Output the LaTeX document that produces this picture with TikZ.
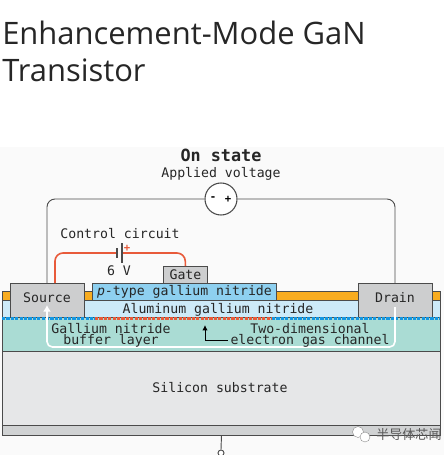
\documentclass[tikz,border=0pt]{standalone}
\usepackage{fontspec}
\setmainfont{Open Sans}
\setmonofont{DejaVu Sans Mono}
\newfontfamily\cjk{Noto Sans CJK SC}
\usetikzlibrary{arrows.meta,positioning,calc}
\definecolor{layergold}{RGB}{248,172,32}
\definecolor{layeralgan}{RGB}{205,234,248}
\definecolor{layerptype}{RGB}{142,208,240}
\definecolor{layerbuffer}{RGB}{170,220,212}
\definecolor{layersi}{RGB}{230,231,232}
\definecolor{layerbase}{RGB}{208,210,211}
\definecolor{metalgray}{RGB}{205,206,207}
\definecolor{wiregray}{RGB}{75,75,75}
\definecolor{wirered}{RGB}{232,90,58}
\definecolor{chanblue}{RGB}{20,150,225}
\tikzset{
 layer/.style={rectangle,draw=wiregray,line width=0.7pt,inner sep=0pt,anchor=north west},
 contact/.style={layer,fill=metalgray},
 lbl/.style={font=\ttfamily\fontsize{9.9}{9.9}\selectfont,text=black!85,inner sep=0pt},
 wire/.style={draw=wiregray,line width=0.7pt,rounded corners=6pt},
 ctrl/.style={draw=wirered,line width=1.2pt,rounded corners=6pt},
 chan/.style={draw=white,line width=1.2pt,rounded corners=4pt},
 dots/.style={line width=2pt,dash pattern=on 2.4pt off 0.9pt}}
\begin{document}
\begin{tikzpicture}[x=0.75pt,y=-0.75pt]
\useasboundingbox (0,0) rectangle (444,455);
\fill[black!2] (0,147) rectangle (444,455);
% layers, top to bottom
\node[layer,fill=layerbase,minimum width=328.5pt,minimum height=7.5pt] (base) at (2,425) {};
\node[layer,fill=layersi,minimum width=328.5pt,minimum height=55.5pt] (si) at (2,351) {};
\node[layer,fill=layerbuffer,minimum width=328.5pt,minimum height=25.5pt] (buffer) at (2,317) {};
\node[layer,fill=layeralgan,minimum width=328.5pt,minimum height=12.75pt] (algan) at (2,300) {};
\node[layer,fill=layergold,minimum width=328.5pt,minimum height=6.75pt] (gold) at (2,291) {};
\node[layer,fill=layerptype,minimum width=138pt,minimum height=12.75pt] (ptype) at (92,283) {};
\node[contact,minimum width=55.5pt,minimum height=25.5pt] (source) at (10,283) {};
\node[contact,minimum width=55.5pt,minimum height=25.5pt] (drain) at (358,283) {};
\node[contact,minimum width=33pt,minimum height=12.75pt] (gate) at (163,266) {};
% channel dots
\draw[chanblue,dots] (2,318.5)--(95,318.5);
\draw[wirered,dots] (95,318.5)--(272,318.5);
\draw[chanblue,dots] (272,318.5)--(440,318.5);
% current loop
\coordinate (chanA) at (47,305);
\coordinate (chanB) at (395,307);
\draw[chan,-{Latex[length=5pt,width=6pt]}] (chanB)--(395,347)--(47,347)--(chanA);
% circuits
\node[circle,draw=wiregray,line width=0.8pt,fill=white,minimum size=24pt,inner sep=0pt] (supply) at (221,199) {};
\node[font=\ttfamily\bfseries\fontsize{8}{8}\selectfont,inner sep=0pt] (minus) at (213,199) {-};
\node[font=\ttfamily\bfseries\fontsize{8}{8}\selectfont,inner sep=0pt] (plus) at (228,199) {+};
\coordinate (srcwire) at (47,283);
\coordinate (drnwire) at (395,283);
\draw[wire] (srcwire)--(47,199)--(supply.west);
\draw[wire] (drnwire)--(395,199)--(supply.east);
\coordinate (srcctrl) at (55,283);
\coordinate (cellA) at (117,253);
\coordinate (cellB) at (122,253);
\draw[ctrl] (srcctrl)--(55,253)--(cellA);
\draw[ctrl] (cellB)--(185,253)--(gate.north);
\draw[wiregray,line width=0.8pt] (117,248)--(117,258);
\draw[wiregray,line width=0.8pt] (122,243)--(122,263);
\node[font=\ttfamily\bfseries\fontsize{8}{8}\selectfont,text=wirered,inner sep=0pt] (cellplus) at (127,248) {+};
% back contact
\node[circle,draw=wiregray,line width=0.7pt,fill=white,minimum size=4.5pt,inner sep=0pt] (term) at (221,453) {};
\draw[wire] (base.south)--(term.north);
% labels
\node[font=\fontsize{23.2}{27.7}\selectfont,anchor=north west,align=left,inner sep=0pt,text=black!85] (title) at (2,21) {Enhancement-Mode GaN\\Transistor};
\node[lbl,font=\ttfamily\bfseries\fontsize{12.6}{12.6}\selectfont] (onstate) at (221,155) {On state};
\node[lbl] (applied) at (221,174) {Applied voltage};
\node[lbl] (control) at (120,234) {Control circuit};
\node[lbl] (sixv) at (119,271) {6 V};
\node[lbl] at (gate.center) {Gate};
\node[lbl] at (47,298) {Source};
\node[lbl] at (395,298) {Drain};
\node[lbl] at (ptype.center) {\textit{p}-type gallium nitride};
\node[lbl] at (218,310) {Aluminum gallium nitride};
\node[lbl,align=center,font=\ttfamily\fontsize{9.9}{8.4}\selectfont] (gan) at (111,335) {Gallium nitride\\buffer layer};
\node[lbl,align=center,font=\ttfamily\fontsize{9.9}{8.4}\selectfont] (twodeg) at (310,335) {Two-dimensional\\electron gas channel};
\coordinate (gasA) at (228,340);
\draw[black,line width=0.7pt,-{Latex[length=4pt,width=4pt]}] (gasA)--(205,340)--(205,325);
\node[lbl] (silicon) at (220,388) {Silicon substrate};
% watermark
\fill[white,draw=black!45,line width=0.3pt] (358,432) circle (5.5);
\fill[white,draw=black!45,line width=0.3pt] (365,437) circle (5);
\node[font=\cjk\fontsize{9.8}{9.8}\selectfont,text=black!65,inner sep=0pt,anchor=west] (mark) at (376,435) {半导体芯闻};
\end{tikzpicture}
\end{document}
